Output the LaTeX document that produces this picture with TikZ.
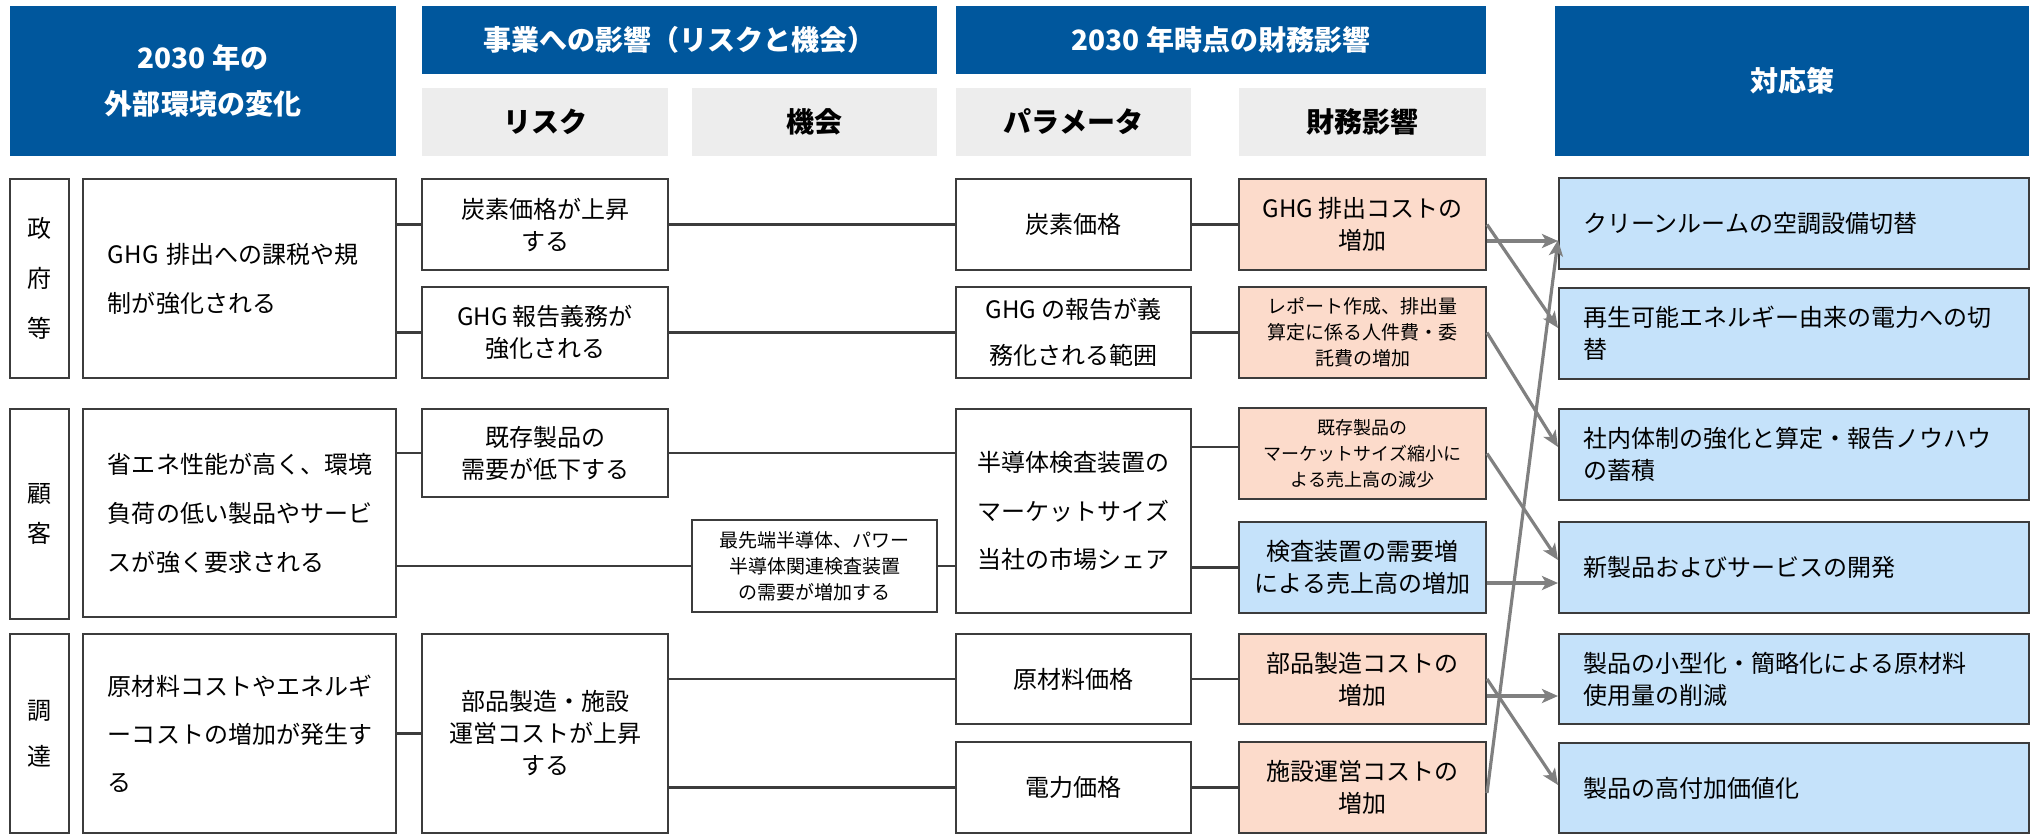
\documentclass[tikz,border=0pt]{standalone}
\usepackage{fontspec}
\setmainfont{Noto Sans CJK JP}
\usetikzlibrary{arrows.meta,calc}
\definecolor{hblue}{RGB}{0,87,157}
\definecolor{hgray}{RGB}{237,237,237}
\definecolor{pinkf}{RGB}{252,219,203}
\definecolor{bluef}{RGB}{197,226,250}
\definecolor{bord}{RGB}{60,60,60}
\definecolor{arrc}{RGB}{128,128,128}
\newcommand\fs[2]{\fontsize{#1bp}{#2bp}\selectfont}
% style, name, x1, y1, x2, y2, text  (coordinates in px of the reference)
\newcommand\bxn[7]{%
  \pgfmathsetmacro\bxcx{(#3+#5)/2}\pgfmathsetmacro\bxcy{(#4+#6)/2}%
  \pgfmathsetmacro\bxw{(#5-#3)*0.5}\pgfmathsetmacro\bxh{(#6-#4)*0.5}%
  \node[#1, minimum width=\bxw bp, minimum height=\bxh bp] (#2) at (\bxcx,\bxcy) {#7};}
\begin{document}
\begin{tikzpicture}[x=0.5bp,y=-0.5bp,
  box/.style={draw=bord, line width=1bp, inner sep=0pt, text=black},
  hdr/.style={fill=hblue, text=white, inner sep=0pt, font=\fs{14}{23}\bfseries, align=center},
  gry/.style={fill=hgray, text=black, inner sep=0pt, font=\fs{14}{18}\bfseries, align=center},
  wbox/.style={box, fill=white, font=\fs{12}{16}, align=center},
  pk/.style={box, fill=pinkf, font=\fs{12}{16}, align=center},
  lbb/.style={box, fill=bluef, font=\fs{12}{16}, align=center},
  smalltxt/.style={font=\fs{9.5}{13}},
  lbl/.style={box, fill=white, align=center},
  cbox/.style={box, fill=white, align=left, text width=131.5bp, font=\fs{12}{24.5}},
  abox/.style={lbb, align=left, text width=211bp},
  conn/.style={draw=bord, line width=1.3bp},
  garr/.style={draw=arrc, line width=1.6bp, -{Stealth[length=8bp,width=7bp,inset=2bp]}}
]
\useasboundingbox (0,0) rectangle (2035,839);

% headers
\bxn{hdr}{H1}{10}{6}{396}{156}{2030 年の\\外部環境の変化}
\bxn{hdr}{H2}{422}{6}{937}{74}{事業への影響（リスクと機会）}
\bxn{gry}{G1}{422}{88}{668}{156}{リスク}
\bxn{gry}{G2}{692}{88}{937}{156}{機会}
\bxn{hdr}{H3}{956}{6}{1486}{74}{2030 年時点の財務影響}
\bxn{gry}{G3}{956}{88}{1191}{156}{パラメータ}
\bxn{gry}{G4}{1239}{88}{1486}{156}{財務影響}
\bxn{hdr}{H4}{1555}{6}{2029}{156}{対応策}

% row 1
\bxn{lbl,font=\fs{12}{25}}{L1}{10}{179}{69}{378}{政\\府\\等}
\bxn{cbox}{C1}{83}{179}{396}{378}{GHG~排出への課税や規\\制が強化される}
\bxn{wbox}{R1a}{422}{179}{668}{270}{炭素価格が上昇\\する}
\bxn{wbox}{R1b}{422}{287}{668}{378}{GHG 報告義務が\\強化される}
\bxn{wbox}{P1a}{956}{179}{1191}{270}{炭素価格}
\bxn{wbox,font=\fs{12}{23}}{P1b}{956}{287}{1191}{378}{GHG の報告が義\\務化される範囲}
\bxn{pk}{F1a}{1239}{179}{1486}{270}{GHG 排出コストの\\増加}
\bxn{pk,smalltxt}{F1b}{1239}{287}{1486}{378}{レポート作成、排出量\\算定に係る人件費・委\\託費の増加}
\bxn{abox}{A1}{1559}{178}{2029}{269}{クリーンルームの空調設備切替}
\bxn{abox}{A2}{1559}{288}{2029}{379}{再生可能エネルギー由来の電力への切\\替}

% row 2
\bxn{lbl,font=\fs{12}{20}}{L2}{10}{409}{69}{619}{顧\\客}
\bxn{cbox}{C2}{83}{409}{396}{617}{省エネ性能が高く、環境\\負荷の低い製品やサービ\\スが強く要求される}
\bxn{wbox}{R2a}{422}{409}{668}{497}{既存製品の\\需要が低下する}
\bxn{wbox,smalltxt}{O2}{692}{520}{937}{612}{最先端半導体、パワー\\半導体関連検査装置\\の需要が増加する}
\bxn{wbox,font=\fs{12}{24.25}}{P2}{956}{409}{1191}{613}{半導体検査装置の\\マーケットサイズ\\当社の市場シェア}
\bxn{pk,font=\fs{9}{13}}{F2a}{1239}{408}{1486}{499}{既存製品の\\マーケットサイズ縮小に\\よる売上高の減少}
\bxn{lbb}{F2b}{1239}{522}{1486}{613}{検査装置の需要増\\による売上高の増加}
\bxn{abox}{A3}{1559}{409}{2029}{500}{社内体制の強化と算定・報告ノウハウ\\の蓄積}
\bxn{abox}{A4}{1559}{522}{2029}{613}{新製品およびサービスの開発}

% row 3
\bxn{lbl,font=\fs{12}{23}}{L3}{10}{634}{69}{833}{調\\達}
\bxn{cbox,font=\fs{12}{24}}{C3}{83}{634}{396}{833}{原材料コストやエネルギ\\ーコストの増加が発生す\\る}
\bxn{wbox}{R3}{422}{634}{668}{833}{部品製造・施設\\運営コストが上昇\\する}
\bxn{wbox}{P3a}{956}{634}{1191}{724}{原材料価格}
\bxn{wbox}{P3b}{956}{742}{1191}{833}{電力価格}
\bxn{pk}{F3a}{1239}{634}{1486}{724}{部品製造コストの\\増加}
\bxn{pk}{F3b}{1239}{742}{1486}{833}{施設運営コストの\\増加}
\bxn{abox}{A5}{1559}{634}{2029}{724}{製品の小型化・簡略化による原材料\\使用量の削減}
\bxn{abox}{A6}{1559}{743}{2029}{833}{製品の高付加価値化}

% dark connectors
\draw[conn] (R1a.west -| C1.east) -- (R1a.west);
\draw[conn] (R1b.west -| C1.east) -- (R1b.west);
\draw[conn] (R1a.east) -- (P1a.west);
\draw[conn] (P1a.east) -- (F1a.west);
\draw[conn] (R1b.east) -- (P1b.west);
\draw[conn] (P1b.east) -- (F1b.west);
\draw[conn] (R2a.west -| C2.east) -- (R2a.west);
\draw[conn] (R2a.east) -- (R2a.east -| P2.west);
\draw[conn] (O2.west -| C2.east) -- (O2.west);
\draw[conn] (O2.east) -- (O2.east -| P2.west);
\draw[conn] ($(F2a.west -| P2.east)+(0,-6.5)$) -- ($(F2a.west)+(0,-6.5)$);
\draw[conn] (F2b.west -| P2.east) -- (F2b.west);
\draw[conn] (R3.west -| C3.east) -- (R3.west);
\draw[conn] (P3a.west -| R3.east) -- (P3a.west);
\draw[conn] (P3b.west -| R3.east) -- (P3b.west);
\draw[conn] (P3a.east) -- (F3a.west);
\draw[conn] (P3b.east) -- (F3b.west);

% gray arrows
\draw[garr] ($(F1a.east)+(0,16.5)$) -- ($(A1.west)+(0,17.5)$);
\draw[garr] (F1a.east) -- ($(A2.west)+(0,-5.5)$);
\draw[garr] (F1b.east) -- ($(A3.west)+(0,-7.5)$);
\draw[garr] (F2a.east) -- ($(A4.west)+(0,-7.5)$);
\draw[garr] ($(F2b.east)+(0,15.5)$) -- ($(A4.west)+(0,15.5)$);
\draw[garr] ($(F3a.east)+(0,17)$) -- ($(A5.west)+(0,17)$);
\draw[garr] (F3a.east) -- ($(A6.west)+(0,-3)$);
\draw[garr] ($(F3b.east)+(0,5.5)$) -- ($(A1.west)+(0,16.5)$);
\end{tikzpicture}
\end{document}
